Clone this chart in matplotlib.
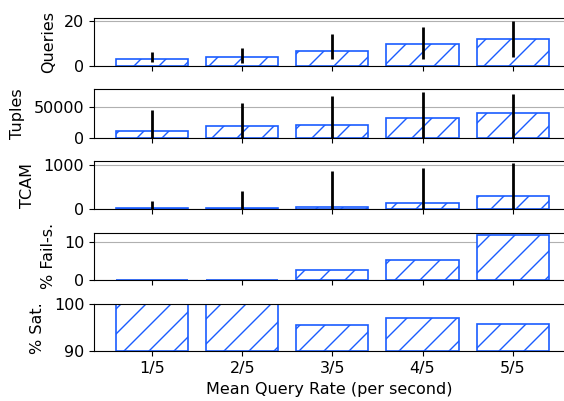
import matplotlib
matplotlib.use("Agg")
import matplotlib.pyplot as plt
import numpy as np

rates = ["1/5", "2/5", "3/5", "4/5", "5/5"]

queries = [3.1, 4.0, 6.5, 9.6, 12.0]
queries_lo = [1.5, 1.3, 3.0, 3.0, 4.0]
queries_hi = [6.0, 8.0, 14.0, 17.1, 20.0]

tuples = [11300, 19500, 20200, 32800, 41100]
tuples_lo = [0, 0, 0, 0, 0]
tuples_hi = [45000, 57600, 68200, 75300, 71500]

tcam = [5, 25, 40, 120, 280]
tcam_lo = [0, 0, 0, 0, 0]
tcam_hi = [175, 400, 855, 918, 1030]

fail = [0.0, 0.0, 2.6, 5.2, 11.8]
sat = [100.0, 99.9, 95.5, 97.0, 95.7]

blue = "#1a5cff"

# render at dpi 75 so the hatch is a bit sparser; scale point sizes to match
DPI = 75
s = 100.0 / DPI
fs = 11.5 * s
plt.rcParams.update({
    "axes.linewidth": 0.8 * s,
    "xtick.major.size": 3.5 * s, "xtick.major.width": 0.8 * s, "xtick.major.pad": 3.5 * s,
    "ytick.major.size": 3.5 * s, "ytick.major.width": 0.8 * s, "ytick.major.pad": 3.5 * s,
    "hatch.linewidth": 1.0 * s,
})

fig = plt.figure(figsize=(564.0 / DPI, 401.0 / DPI), dpi=DPI)
H = 401.0
# (top, bottom) in pixels from top
boxes = [(18.3, 65.7), (89.3, 137.5), (161.3, 208.7), (232.7, 280), (304, 351.3)]
left, width = 94 / 564.0, 470 / 564.0

panels = [
    ("Queries", queries, (queries_lo, queries_hi), (0, 21), [0, 20]),
    ("Tuples", tuples, (tuples_lo, tuples_hi), (0, 80000), [0, 50000]),
    ("TCAM", tcam, (tcam_lo, tcam_hi), (0, 1077), [0, 1000]),
    ("% Fail-s.", fail, None, (0, 12.35), [0, 10]),
    ("% Sat.", sat, None, (90, 100), [90, 100]),
]

x = np.arange(len(rates))
for i, (label, vals, err, ylim, yt) in enumerate(panels):
    t, b = boxes[i]
    ax = fig.add_axes([left, 1 - b / H, width, (b - t) / H])
    base = ylim[0]
    ax.bar(x, np.array(vals) - base, bottom=base, width=0.8, color="white",
           edgecolor=blue, hatch="/", linewidth=1.2 * s, zorder=2)
    if err is not None:
        ax.vlines(x, err[0], err[1], color="black", linewidth=2 * s, zorder=3)
    ax.set_ylim(*ylim)
    ax.set_yticks(yt)
    ax.set_xlim(-0.646, 4.57)
    ax.set_xticks(x)
    ax.yaxis.grid(True, color="#b0b0b0", linewidth=0.8 * s, zorder=0)
    ax.set_axisbelow(True)
    ax.spines["right"].set_visible(False)
    ax.set_ylabel(label, fontsize=fs, labelpad=6 * s)
    if i < 4:
        ax.set_xticklabels([])
    else:
        ax.set_xticklabels(rates, fontsize=fs)
        ax.set_xlabel("Mean Query Rate (per second)", fontsize=fs, labelpad=4 * s)
    ax.tick_params(axis="y", labelsize=fs)

fig.savefig("out.png", dpi=DPI)
